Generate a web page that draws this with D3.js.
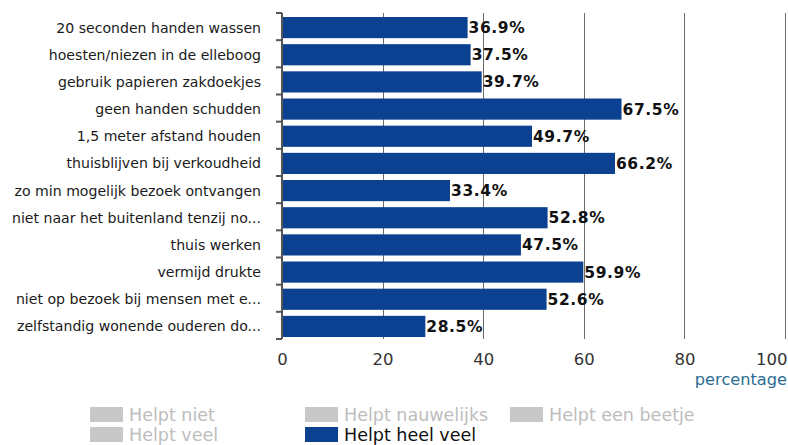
<!DOCTYPE html>
<html>
<head>
<meta charset="utf-8">
<script src="https://cdn.jsdelivr.net/npm/d3@7"></script>
<style>
  html, body { margin: 0; padding: 0; background: #fff; }
  svg { display: block; font-family: "DejaVu Sans", Verdana, sans-serif; }
</style>
</head>
<body>
<svg id="chart" width="788" height="445"></svg>
<script>
// Maatregelen en het aandeel "helpt heel veel" (percentage)
const categories = [
  "20 seconden handen wassen",
  "hoesten/niezen in de elleboog",
  "gebruik papieren zakdoekjes",
  "geen handen schudden",
  "1,5 meter afstand houden",
  "thuisblijven bij verkoudheid",
  "zo min mogelijk bezoek ontvangen",
  "niet naar het buitenland tenzij no...",
  "thuis werken",
  "vermijd drukte",
  "niet op bezoek bij mensen met e...",
  "zelfstandig wonende ouderen do..."
];
const heelVeel = [36.9, 37.5, 39.7, 67.5, 49.7, 66.2, 33.4, 52.8, 47.5, 59.9, 52.6, 28.5];
const xTicks = [0, 20, 40, 60, 80, 100];
const legendItems = ["Helpt niet", "Helpt nauwelijks", "Helpt een beetje", "Helpt veel", "Helpt heel veel"];
const activeSeries = "Helpt heel veel";

const BLUE = "#0c4090";
const GREY = "#c8c8c8";

const svg = d3.select("#chart");
const plot = { left: 282, right: 785, top: 13, bottom: 339 };

const x = d3.scaleLinear().domain([0, 100]).range([plot.left, plot.right]);
const y = d3.scaleBand().domain(categories).range([plot.top, plot.bottom]).paddingInner(0).paddingOuter(0);

// verticale rasterlijnen (achter de balken)
svg.append("g")
  .selectAll("line")
  .data(xTicks.filter(d => d > 0))
  .join("line")
  .attr("x1", d => Math.round(x(d)) + 0.5)
  .attr("x2", d => Math.round(x(d)) + 0.5)
  .attr("y1", plot.top)
  .attr("y2", plot.bottom)
  .attr("stroke", "#6a6a6a")
  .attr("stroke-width", 1);

// balken
const barOffset = 4, barShrink = 6;
svg.append("g")
  .selectAll("rect")
  .data(categories)
  .join("rect")
  .attr("x", x(0))
  .attr("y", d => y(d) + barOffset)
  .attr("width", (d, i) => x(heelVeel[i]) - x(0))
  .attr("height", y.bandwidth() - barShrink)
  .attr("fill", BLUE);

// waardelabels
svg.append("g")
  .selectAll("text")
  .data(categories)
  .join("text")
  .attr("x", (d, i) => x(heelVeel[i]) + 1)
  .attr("y", d => y(d) + barOffset + (y.bandwidth() - barShrink) / 2)
  .attr("dy", "0.36em")
  .attr("font-size", 15.5)
  .attr("font-weight", "bold")
  .attr("letter-spacing", 0.6)
  .attr("fill", "#111")
  .text((d, i) => heelVeel[i].toFixed(1) + "%");

// categorie-as links
svg.append("line")
  .attr("x1", plot.left).attr("x2", plot.left)
  .attr("y1", plot.top).attr("y2", plot.bottom)
  .attr("stroke", "#555").attr("stroke-width", 2);

// streepjes op de bandgrenzen
const bounds = categories.map(d => y(d)).concat([plot.bottom]);
svg.append("g")
  .selectAll("line")
  .data(bounds)
  .join("line")
  .attr("x1", plot.left - 6)
  .attr("x2", plot.left)
  .attr("y1", d => d)
  .attr("y2", d => d)
  .attr("stroke", "#555")
  .attr("stroke-width", 2);

// categorielabels
svg.append("g")
  .selectAll("text")
  .data(categories)
  .join("text")
  .attr("x", 261)
  .attr("y", d => y(d) + barOffset + (y.bandwidth() - barShrink) / 2)
  .attr("dy", "0.36em")
  .attr("text-anchor", "end")
  .attr("font-size", 14.1)
  .attr("fill", "#1a1a1a")
  .text(d => d);

// x-as labels
const xAxis = d3.axisBottom(x).tickValues(xTicks).tickSize(0).tickPadding(0).tickFormat(d3.format("d"));
const xg = svg.append("g").attr("transform", `translate(0,${plot.bottom})`).call(xAxis);
xg.select(".domain").remove();
xg.selectAll("text")
  .attr("y", 26)
  .attr("dy", 0)
  .attr("font-size", 16.5)
  .attr("font-family", "DejaVu Sans, Verdana, sans-serif")
  .attr("fill", "#333")
  .attr("text-anchor", d => d === 100 ? "end" : "middle")
  .attr("x", d => d === 100 ? 2 : 0);

svg.append("text")
  .attr("x", 787)
  .attr("y", 385)
  .attr("text-anchor", "end")
  .attr("font-size", 16.2)
  .attr("fill", "#2a6d94")
  .text("percentage");

// legenda
const legendPos = [
  { x: 90, y: 407 }, { x: 305, y: 407 }, { x: 510, y: 407 },
  { x: 90, y: 427 }, { x: 305, y: 427 }
];
const lg = svg.append("g")
  .selectAll("g")
  .data(legendItems)
  .join("g")
  .attr("transform", (d, i) => `translate(${legendPos[i].x},${legendPos[i].y})`);
lg.append("rect")
  .attr("width", 33)
  .attr("height", 15)
  .attr("fill", d => d === activeSeries ? BLUE : GREY);
lg.append("text")
  .attr("x", 39)
  .attr("y", 7.5)
  .attr("dy", "0.36em")
  .attr("font-size", 17.5)
  .attr("fill", d => d === activeSeries ? "#111" : "#bdbdbd")
  .text(d => d);
</script>
</body>
</html>
